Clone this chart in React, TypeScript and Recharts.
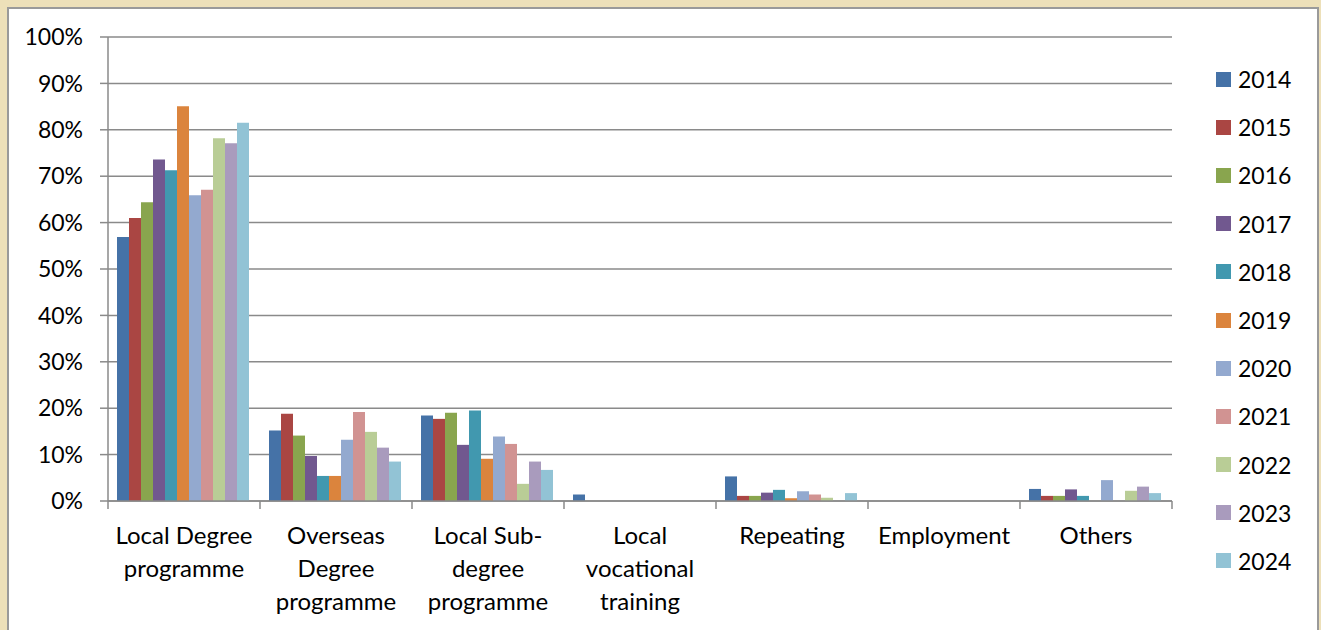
import { Bar, BarChart, CartesianGrid, Legend, XAxis, YAxis } from 'recharts';

const categories = [
  'Local Degree\nprogramme',
  'Overseas\nDegree\nprogramme',
  'Local Sub-\ndegree\nprogramme',
  'Local\nvocational\ntraining',
  'Repeating',
  'Employment',
  'Others'
];

const years = ['2014', '2015', '2016', '2017', '2018', '2019', '2020', '2021', '2022', '2023', '2024'];

const colors = [
  '#4572A7', '#AA4643', '#89A54E', '#71588F', '#4198AF', '#DB843D',
  '#93A9CF', '#D19392', '#B9CD96', '#A99BBD', '#92C3D5'
];

const v2014 = [56.9, 15.2, 18.4, 1.4, 5.3, 0, 2.6];
const v2015 = [61.0, 18.8, 17.7, 0, 1.1, 0, 1.1];
const v2016 = [64.4, 14.1, 19.0, 0, 1.1, 0, 1.1];
const v2017 = [73.6, 9.7, 12.1, 0, 1.8, 0, 2.5];
const v2018 = [71.3, 5.4, 19.5, 0, 2.4, 0, 1.1];
const v2019 = [85.1, 5.4, 9.1, 0, 0.6, 0, -0.3];
const v2020 = [65.9, 13.2, 13.9, 0, 2.1, 0, 4.5];
const v2021 = [67.1, 19.2, 12.3, 0, 1.4, 0, 0];
const v2022 = [78.2, 14.9, 3.7, 0, 0.7, 0, 2.2];
const v2023 = [77.1, 11.5, 8.5, 0, 0, 0, 3.1];
const v2024 = [81.5, 8.5, 6.7, 0, 1.7, 0, 1.7];

const seriesValues = [v2014, v2015, v2016, v2017, v2018, v2019, v2020, v2021, v2022, v2023, v2024];

const yTicks = [0, 10, 20, 30, 40, 50, 60, 70, 80, 90, 100];

const data = categories.map((name, i) => {
  const row: Record<string, string | number> = { name };
  years.forEach((y, k) => {
    row[y] = seriesValues[k][i];
  });
  return row;
});

const GRID = '#8a8a8a';
const FONT = 23;
const CAT_FONT = 24;
const BAND = (1172 - 108) / categories.length;

const CategoryTick = (props: any) => {
  const { x, y, payload, index } = props;
  const lines = String(payload.value).split('\n');
  return (
    <g>
      <line x1={x - BAND / 2} x2={x - BAND / 2} y1={y} y2={y + 8} stroke={GRID} strokeWidth={1.5} />
      {index === categories.length - 1 && (
        <line x1={x + BAND / 2} x2={x + BAND / 2} y1={y} y2={y + 8} stroke={GRID} strokeWidth={1.5} />
      )}
      <text x={x} y={y + 43} textAnchor="middle" fill="#000" fontSize={CAT_FONT}>
        {lines.map((l, i) => (
          <tspan key={i} x={x} dy={i === 0 ? 0 : 33}>
            {l}
          </tspan>
        ))}
      </text>
    </g>
  );
};

const YearLegend = () => (
  <div>
    {years.map((y, k) => (
      <div key={y} style={{ height: 48.2, display: 'flex', alignItems: 'center' }}>
        <span style={{ width: 15, height: 15, marginLeft: 11, marginRight: 7, background: colors[k] }} />
        <span style={{ fontSize: FONT, color: '#000' }}>{y}</span>
      </div>
    ))}
  </div>
);

export default function App() {
  return (
    <div
      style={{
        position: 'fixed',
        left: 0,
        top: 0,
        width: 1321,
        height: 630,
        background: '#EDE0B9',
        overflow: 'hidden',
        fontFamily: 'Lato, sans-serif'
      }}
    >
      <div
        style={{
          position: 'absolute',
          left: 7,
          top: 7,
          width: 1308,
          height: 640,
          background: '#fff',
          border: '2px solid #9a9a9a'
        }}
      />
      <div style={{ position: 'absolute', left: 0, top: 0 }}>
        <BarChart
          width={1321}
          height={630}
          data={data}
          margin={{ top: 37, right: 29, left: 8, bottom: 9 }}
          barCategoryGap={9}
          barGap={0}
        >
          <CartesianGrid vertical={false} stroke={GRID} strokeWidth={1.5} />
          <XAxis
            dataKey="name"
            height={120}
            interval={0}
            tickSize={0}
            tickMargin={0}
            tickLine={false}
            axisLine={{ stroke: GRID, strokeWidth: 1.5 }}
            tick={<CategoryTick />}
          />
          <YAxis
            width={100}
            domain={[0, 100]}
            ticks={yTicks}
            allowDataOverflow
            tickFormatter={(v) => `${v}%`}
            tickSize={8}
            tickMargin={17}
            axisLine={{ stroke: GRID, strokeWidth: 1.5 }}
            tickLine={{ stroke: GRID, strokeWidth: 1.5 }}
            tick={{ fill: '#000', fontSize: FONT }}
          />
          <Legend
            layout="vertical"
            align="right"
            verticalAlign="top"
            content={<YearLegend />}
            wrapperStyle={{ left: 1205, top: 55, width: 120 }}
          />
          {years.map((y, k) => (
            <Bar key={y} dataKey={y} fill={colors[k]} isAnimationActive={false} />
          ))}
        </BarChart>
      </div>
    </div>
  );
}
